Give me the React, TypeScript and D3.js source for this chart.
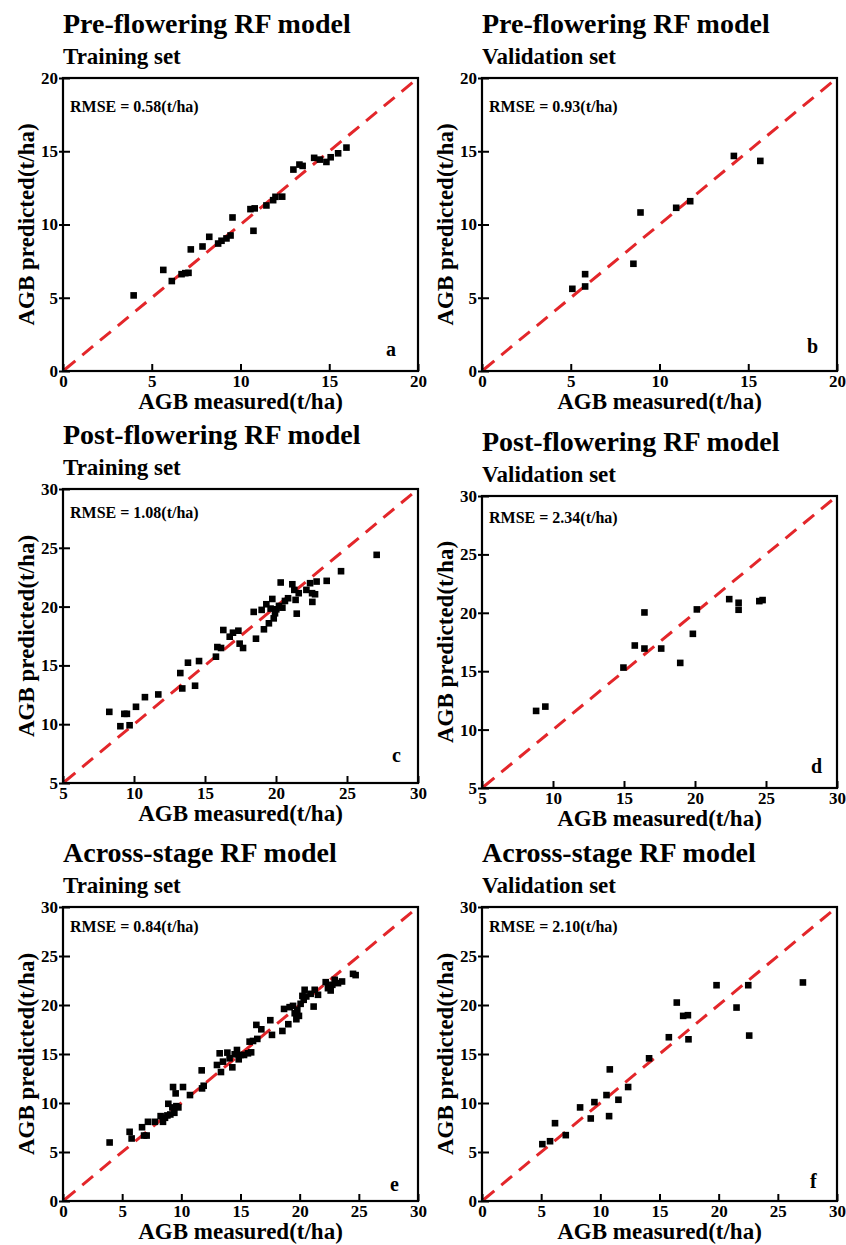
import React, { useEffect, useRef } from "react"
import * as d3 from "d3"

// panel a: pre-flowering, training
const measuredA = [3.98, 5.65, 6.13, 6.68, 6.89, 7.07, 7.2, 7.86, 8.24, 8.74, 8.93, 9.21, 9.44, 9.55, 10.56, 10.8, 10.73, 11.46, 11.84, 11.97, 12.35, 12.98, 13.32, 13.5, 14.15, 14.47, 14.84, 15.08, 15.5, 15.97]
const predictedA = [5.16, 6.9, 6.14, 6.61, 6.68, 6.7, 8.3, 8.5, 9.16, 8.7, 8.89, 9.05, 9.25, 10.48, 11.05, 11.1, 9.57, 11.3, 11.66, 11.89, 11.9, 13.75, 14.09, 14.0, 14.55, 14.43, 14.27, 14.59, 14.86, 15.25]

// panel b: pre-flowering, validation
const measuredB = [5.09, 5.81, 5.81, 8.53, 8.93, 10.94, 11.73, 14.19, 15.68]
const predictedB = [5.61, 6.61, 5.77, 7.32, 10.82, 11.14, 11.59, 14.68, 14.34]

// panel c: post-flowering, training
const measuredC = [8.26, 9.04, 9.32, 9.5, 9.69, 10.14, 10.77, 11.71, 13.26, 13.4, 13.8, 14.3, 14.58, 15.77, 15.87, 16.13, 16.29, 16.74, 16.97, 17.35, 17.44, 17.68, 18.59, 18.43, 18.99, 19.15, 19.32, 19.5, 19.62, 19.74, 19.84, 19.93, 20.02, 20.21, 20.33, 20.45, 20.63, 20.85, 21.15, 21.29, 21.38, 21.46, 21.6, 22.14, 22.4, 22.54, 22.56, 22.75, 22.86, 23.57, 24.58, 27.09]
const predictedC = [11.05, 9.83, 10.88, 10.88, 9.91, 11.48, 12.3, 12.53, 14.35, 13.04, 15.23, 13.27, 15.37, 15.74, 16.56, 16.48, 18.01, 17.44, 17.78, 17.95, 16.85, 16.48, 17.27, 19.55, 19.72, 18.07, 20.2, 18.58, 19.83, 20.65, 19.0, 19.43, 19.77, 20.06, 22.05, 19.91, 20.48, 20.71, 21.9, 21.42, 20.57, 19.4, 21.14, 21.42, 21.99, 21.14, 20.4, 21.05, 22.13, 22.19, 23.01, 24.4]

// panel d: post-flowering, validation
const measuredD = [8.81, 9.46, 14.96, 15.76, 16.44, 16.44, 17.62, 18.96, 19.85, 20.13, 22.41, 23.07, 23.07, 24.53, 24.76]
const predictedD = [11.6, 11.97, 15.31, 17.2, 20.03, 16.94, 16.94, 15.71, 18.2, 20.29, 21.17, 20.86, 20.26, 21.0, 21.09]

// panel e: across-stage, training
const measuredE = [3.94, 5.63, 5.8, 6.68, 6.85, 7.07, 7.18, 7.77, 8.25, 8.45, 8.62, 8.82, 8.9, 9.07, 9.24, 9.3, 9.41, 9.52, 9.58, 9.75, 10.14, 10.73, 11.72, 11.75, 11.89, 13.01, 13.24, 13.35, 13.52, 13.89, 14.08, 14.31, 14.51, 14.7, 14.85, 15.0, 15.3, 15.63, 15.9, 15.77, 16.06, 16.34, 16.42, 16.76, 17.52, 17.66, 18.54, 18.68, 19.04, 19.15, 19.44, 19.58, 19.72, 19.8, 19.94, 20.08, 20.23, 20.34, 20.42, 20.56, 20.93, 21.18, 21.27, 21.55, 22.2, 22.39, 22.62, 22.76, 22.96, 23.24, 23.58, 24.51, 24.73]
const predictedE = [5.97, 7.06, 6.38, 7.53, 6.68, 6.68, 8.08, 8.08, 8.66, 8.08, 8.49, 8.73, 9.92, 8.83, 9.55, 11.63, 9.0, 10.98, 9.68, 9.55, 11.63, 10.81, 13.33, 11.49, 11.76, 13.88, 15.07, 13.16, 14.22, 15.14, 14.56, 13.64, 14.97, 15.41, 14.46, 14.9, 14.9, 15.07, 15.17, 16.26, 16.33, 17.97, 16.54, 17.52, 18.45, 16.95, 17.35, 19.6, 18.04, 19.78, 19.91, 19.16, 18.55, 19.5, 18.89, 20.12, 20.93, 20.53, 21.55, 20.87, 21.14, 19.84, 21.55, 21.04, 22.33, 21.72, 21.48, 22.06, 22.57, 22.23, 22.4, 23.18, 23.05]

// panel f: across-stage, validation
const measuredF = [5.1, 5.75, 6.17, 7.08, 8.29, 9.19, 9.5, 10.52, 10.74, 10.8, 11.53, 12.35, 14.12, 15.79, 16.46, 17.0, 17.4, 17.45, 19.82, 21.51, 22.5, 22.58, 27.12]
const predictedF = [5.8, 6.1, 7.94, 6.72, 9.55, 8.42, 10.09, 10.81, 8.66, 13.43, 10.33, 11.63, 14.56, 16.71, 20.25, 18.89, 18.96, 16.5, 22.02, 19.74, 22.02, 16.88, 22.3]

const titles = ["Pre-flowering RF model", "Pre-flowering RF model", "Post-flowering RF model", "Post-flowering RF model", "Across-stage RF model", "Across-stage RF model"]
const subtitles = ["Training set", "Validation set", "Training set", "Validation set", "Training set", "Validation set"]
const rmseValues = ["0.58", "0.93", "1.08", "2.34", "0.84", "2.10"]
const letters = ["a", "b", "c", "d", "e", "f"]
const ticks20 = [0, 5, 10, 15, 20]
const ticks5to30 = [5, 10, 15, 20, 25, 30]
const ticks0to30 = [0, 5, 10, 15, 20, 25, 30]

const panels = [
  { measured: measuredA, predicted: predictedA, ticks: ticks20, left: 63, top: 78, bottom: 371, rmseDy: 34, letterDx: 32, letterDy: 15 },
  { measured: measuredB, predicted: predictedB, ticks: ticks20, left: 482, top: 78, bottom: 371, rmseDy: 34, letterDx: 30, letterDy: 18 },
  { measured: measuredC, predicted: predictedC, ticks: ticks5to30, left: 63, top: 489, bottom: 783, rmseDy: 29, letterDx: 26, letterDy: 21 },
  { measured: measuredD, predicted: predictedD, ticks: ticks5to30, left: 482, top: 496, bottom: 788, rmseDy: 27, letterDx: 26, letterDy: 15 },
  { measured: measuredE, predicted: predictedE, ticks: ticks0to30, left: 63, top: 907, bottom: 1201, rmseDy: 25, letterDx: 28, letterDy: 10 },
  { measured: measuredF, predicted: predictedF, ticks: ticks0to30, left: 482, top: 907, bottom: 1201, rmseDy: 25, letterDx: 27, letterDy: 13 }
]

const W = 846
const H = 1245
const plotW = 355

export default function App() {
  const ref = useRef<SVGGElement>(null)

  useEffect(() => {
    const root = d3.select(ref.current)
    root.selectAll("*").remove()

    panels.forEach((p, i) => {
      const lo = p.ticks[0]
      const hi = p.ticks[p.ticks.length - 1]
      const h = p.bottom - p.top
      const x = d3.scaleLinear().domain([lo, hi]).range([0, plotW])
      const y = d3.scaleLinear().domain([lo, hi]).range([h, 0])

      const g = root.append("g").attr("transform", `translate(${p.left},${p.top})`)

      g.append("text").attr("x", 0).attr("y", -45).attr("font-size", 28).text(titles[i])
      g.append("text").attr("x", 0).attr("y", -14).attr("font-size", 23).text(subtitles[i])

      // 1:1 line
      g.append("line")
        .attr("x1", x(lo)).attr("y1", y(lo))
        .attr("x2", x(hi)).attr("y2", y(hi))
        .attr("stroke", "#e3262a").attr("stroke-width", 3)
        .attr("stroke-dasharray", "14 9").attr("stroke-dashoffset", 21)

      g.selectAll("rect.pt")
        .data(p.measured.map((m, k) => [m, p.predicted[k]]))
        .enter()
        .append("rect")
        .attr("class", "pt")
        .attr("x", d => x(d[0]) - 3.3)
        .attr("y", d => y(d[1]) - 3.3)
        .attr("width", 6.6)
        .attr("height", 6.6)
        .attr("fill", "#000")

      const xAxis = g.append("g").attr("transform", `translate(0,${h})`)
        .call(d3.axisBottom(x).tickValues(p.ticks).tickSizeInner(-7).tickSizeOuter(0).tickPadding(4))
      const yAxis = g.append("g")
        .call(d3.axisLeft(y).tickValues(p.ticks).tickSizeInner(-7).tickSizeOuter(0).tickPadding(5))
      yAxis.selectAll(".tick line").attr("x1", -4)
      ;[xAxis, yAxis].forEach(a => {
        a.attr("font-family", null).attr("font-size", 17)
        a.select(".domain").remove()
        a.selectAll(".tick line").attr("stroke", "#000").attr("stroke-width", 2)
        a.selectAll(".tick text").attr("fill", "#000")
      })

      g.append("rect").attr("width", plotW).attr("height", h)
        .attr("fill", "none").attr("stroke", "#000").attr("stroke-width", 2.2)

      g.append("text").attr("x", 7).attr("y", p.rmseDy).attr("font-size", 16)
        .text(`RMSE = ${rmseValues[i]}(t/ha)`)
      g.append("text").attr("x", plotW - p.letterDx).attr("y", h - p.letterDy).attr("font-size", 20)
        .text(letters[i])

      g.append("text").attr("x", plotW / 2).attr("y", h + 38).attr("text-anchor", "middle")
        .attr("font-size", 23).text("AGB measured(t/ha)")
      g.append("text").attr("transform", `translate(-29,${h / 2}) rotate(-90)`)
        .attr("text-anchor", "middle").attr("font-size", 23).text("AGB predicted(t/ha)")
    })
  }, [])

  return (
    <svg width={W} height={H} style={{ position: "absolute", left: 0, top: 0, background: "#fff", fontFamily: "Liberation Serif", fontWeight: "bold" }}>
      <g ref={ref} />
    </svg>
  )
}
